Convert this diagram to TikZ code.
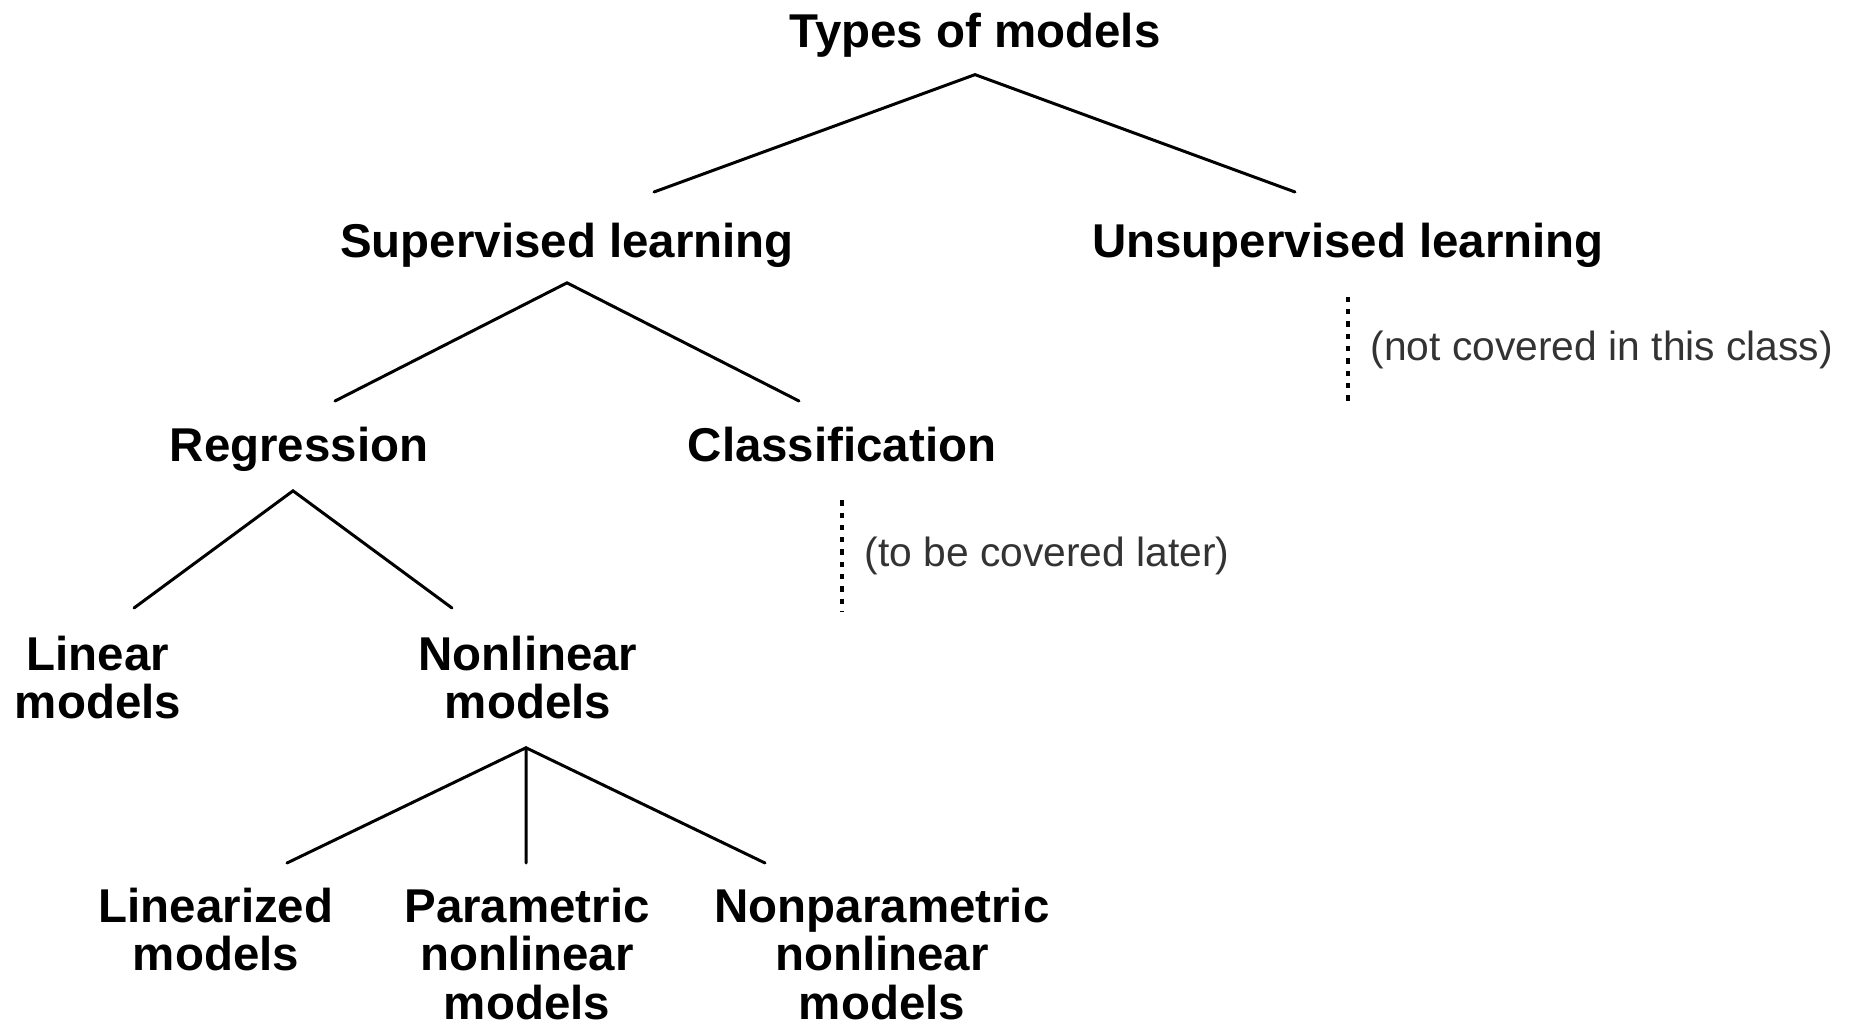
\documentclass[tikz,border=0pt]{standalone}
\usepackage{fontspec}
\setmainfont{Liberation Sans}
\usepackage{tikz}
\usetikzlibrary{positioning}
\tikzstyle{category} = [font=\bfseries\fontsize{13.5}{13.8}\selectfont, align=center, anchor=north, inner sep=0pt]
\tikzstyle{remark} = [font=\fontsize{11.6}{13}\selectfont, text=black!80, anchor=base west, inner sep=0pt]
\tikzstyle{branch} = [line width=0.85pt, line cap=round]
\tikzstyle{aside} = [line width=1pt, dash pattern=on 1.5pt off 2pt]

\begin{document}
\begin{tikzpicture}
	\useasboundingbox (0,0) rectangle (18.54,-10.25);
	
	% Nodes
	\node (types) [category] at (9.75,-0.12) {Types of models};
	\node (sup) [category] at (5.67,-2.22) {Supervised learning};
	\node (unsup) [category] at (13.48,-2.22) {Unsupervised learning};
	\node (reg) [category] at (2.99,-4.26) {Regression};
	\node (cls) [category] at (8.42,-4.26) {Classification};
	\node (linear) [category] at (0.98,-6.35) {Linear\\models};
	\node (nonlin) [category] at (5.28,-6.35) {Nonlinear\\models};
	\node (linzd) [category] at (2.16,-8.87) {Linearized\\models};
	\node (param) [category] at (5.27,-8.87) {Parametric\\nonlinear\\models};
	\node (nonparam) [category] at (8.82,-8.87) {Nonparametric\\nonlinear\\models};
	\node (notcov) [remark] at (13.70,-3.60) {(not covered in this class)};
	\node (later) [remark] at (8.64,-5.66) {(to be covered later)};
	
	% Branches
	\draw [branch] ([xshift=0.87cm,yshift=0.30cm]sup.north) -- ([yshift=-0.17cm]types.south) -- ([xshift=-0.53cm,yshift=0.30cm]unsup.north);
	\draw [branch] ([xshift=0.36cm,yshift=0.25cm]reg.north) -- ([yshift=-0.15cm]sup.south) -- ([xshift=-0.43cm,yshift=0.25cm]cls.north);
	\draw [branch] ([xshift=0.36cm,yshift=0.27cm]linear.north) -- ([xshift=-0.06cm,yshift=-0.19cm]reg.south) -- ([xshift=-0.76cm,yshift=0.27cm]nonlin.north);
	\draw [branch] ([xshift=0.71cm,yshift=0.24cm]linzd.north) -- ([xshift=-0.02cm,yshift=-0.28cm]nonlin.south) -- ([xshift=-1.17cm,yshift=0.24cm]nonparam.north);
	\draw [branch] ([xshift=-0.02cm,yshift=-0.28cm]nonlin.south) -- ([xshift=-0.01cm,yshift=0.24cm]param.north);
	
	% Side notes
	\draw [aside] ([yshift=-0.29cm]unsup.south) -- ([yshift=-1.37cm]unsup.south);
	\draw [aside] ([yshift=-0.38cm]cls.south) -- ([yshift=-1.50cm]cls.south);
	
\end{tikzpicture}
\end{document}
